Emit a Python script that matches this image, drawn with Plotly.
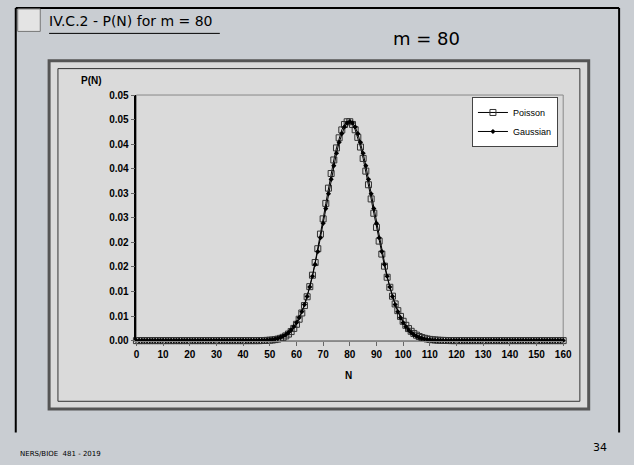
import plotly.graph_objects as go

# ---- data ----
N = list(range(0, 161))

poisson = [
    0, 0, 0, 0, 0, 0, 0, 0, 0, 0, 0, 0, 0, 0, 0, 0, 0, 0, 0, 0,
    0, 0, 0, 0, 0, 0, 0, 0, 0, 0, 0, 0, 0, 0, 0, 0, 0, 0, 0, 0,
    0, 0, 0, 0, 0, 0, 0,
    0.00002, 0.00003, 0.00005, 0.00009, 0.00013, 0.00021, 0.00031, 0.00046, 0.00067, 0.00096,
    0.00133, 0.00184, 0.00249, 0.00332, 0.00436, 0.00563, 0.00714, 0.00893, 0.01099, 0.01332,
    0.01590, 0.01871, 0.02169, 0.02479, 0.02794, 0.03104, 0.03402, 0.03678, 0.03923, 0.04129,
    0.04290, 0.04400, 0.04456, 0.04456, 0.04401, 0.04293, 0.04138, 0.03941, 0.03709, 0.03451,
    0.03173, 0.02885, 0.02593, 0.02305, 0.02026, 0.01762, 0.01516, 0.01290, 0.01086, 0.00905,
    0.00747, 0.00610, 0.00493, 0.00394, 0.00312, 0.00245, 0.00190, 0.00146, 0.00111, 0.00084,
    0.00063, 0.00047, 0.00034, 0.00025, 0.00018, 0.00013, 0.00009, 0.00006, 0.00004, 0.00003,
    0.00002,
    0, 0, 0, 0, 0, 0, 0, 0, 0, 0, 0, 0, 0, 0, 0, 0, 0, 0, 0, 0,
    0, 0, 0, 0, 0, 0, 0, 0, 0, 0, 0, 0, 0, 0, 0, 0, 0, 0, 0, 0,
    0, 0, 0,
]

gaussian = [
    0, 0, 0, 0, 0, 0, 0, 0, 0, 0, 0, 0, 0, 0, 0, 0, 0, 0, 0, 0,
    0, 0, 0, 0, 0, 0, 0, 0, 0, 0, 0, 0, 0, 0, 0, 0, 0, 0, 0, 0,
    0, 0, 0, 0, 0,
    0.00002, 0.00003, 0.00005, 0.00007, 0.00011, 0.00016, 0.00023, 0.00033, 0.00047, 0.00065,
    0.00090, 0.00122, 0.00164, 0.00217, 0.00283, 0.00366, 0.00467, 0.00589, 0.00733, 0.00900,
    0.01093, 0.01310, 0.01551, 0.01813, 0.02094, 0.02387, 0.02688, 0.02990, 0.03283, 0.03561,
    0.03815, 0.04036, 0.04216, 0.04350, 0.04432, 0.04460, 0.04432, 0.04350, 0.04216, 0.04036,
    0.03815, 0.03561, 0.03283, 0.02990, 0.02688, 0.02387, 0.02094, 0.01813, 0.01551, 0.01310,
    0.01093, 0.00900, 0.00733, 0.00589, 0.00467, 0.00366, 0.00283, 0.00217, 0.00164, 0.00122,
    0.00090, 0.00065, 0.00047, 0.00033, 0.00023, 0.00016, 0.00011, 0.00007, 0.00005, 0.00003,
    0.00002,
    0, 0, 0, 0, 0, 0, 0, 0, 0, 0, 0, 0, 0, 0, 0, 0, 0, 0, 0, 0,
    0, 0, 0, 0, 0, 0, 0, 0, 0, 0, 0, 0, 0, 0, 0, 0, 0, 0, 0, 0,
    0, 0, 0, 0, 0,
]

x_ticks = [0, 10, 20, 30, 40, 50, 60, 70, 80, 90, 100, 110, 120, 130, 140, 150, 160]
y_tickvals = [0, 0.005, 0.01, 0.015, 0.02, 0.025, 0.03, 0.035, 0.04, 0.045, 0.05]
y_ticktext = ["0.00", "0.01", "0.01", "0.02", "0.02", "0.03", "0.03", "0.04", "0.04", "0.05", "0.05"]

W, H = 634, 465


def px(x):
    return x / W


def py(y):
    return 1 - y / H


fig = go.Figure()
fig.add_trace(go.Scatter(
    x=N, y=poisson, name="Poisson", mode="lines+markers", cliponaxis=False,
    line=dict(color="black", width=1),
    marker=dict(symbol="square-open", size=6, color="#333333", line=dict(width=1)),
))
fig.add_trace(go.Scatter(
    x=N, y=gaussian, name="Gaussian", mode="lines+markers", cliponaxis=False,
    line=dict(color="black", width=1),
    marker=dict(symbol="diamond", size=4, color="black"),
))

SLIDE_BG = "#c9cdd2"
CHART_BG = "#dadada"
ARIAL = "Liberation Sans, Arial, sans-serif"
COMIC = "Comic Sans MS, DejaVu Sans, sans-serif"

shapes = [
    # chart box (outer thick + inner thin)
    dict(type="rect", xref="paper", yref="paper", x0=px(47), x1=px(597), y0=py(413), y1=py(57),
         line=dict(color="#555555", width=3), fillcolor=CHART_BG, layer="below"),
    dict(type="rect", xref="paper", yref="paper", x0=px(56), x1=px(588), y0=py(405), y1=py(65),
         line=dict(color="#333333", width=1), fillcolor=CHART_BG, layer="below"),
    # plot area border
    dict(type="rect", xref="paper", yref="paper", x0=px(136), x1=px(571), y0=py(343), y1=py(92),
         line=dict(color="#888888", width=1), fillcolor="rgba(0,0,0,0)", layer="below"),
    # slide frame
    dict(type="line", xref="paper", yref="paper", x0=px(13), x1=px(13), y0=py(3), y1=py(437),
         line=dict(color="black", width=2)),
    dict(type="line", xref="paper", yref="paper", x0=px(13), x1=px(628), y0=py(3), y1=py(3),
         line=dict(color="black", width=2)),
    dict(type="line", xref="paper", yref="paper", x0=px(628), x1=px(628), y0=py(3), y1=py(437),
         line=dict(color="black", width=2)),
    # title icon
    dict(type="rect", xref="paper", yref="paper", x0=px(15), x1=px(38), y0=py(27), y1=py(4),
         line=dict(color="#777777", width=1), fillcolor="#e4e4e4"),
    # title underline
    dict(type="line", xref="paper", yref="paper", x0=px(47), x1=px(221), y0=py(29), y1=py(29),
         line=dict(color="black", width=1)),
]

annotations = [
    dict(text="IV.C.2 - P(N) for m = 80", x=px(45), y=py(16), xref="paper", yref="paper",
         xanchor="left", yanchor="middle", showarrow=False,
         font=dict(family=COMIC, size=14, color="black")),
    dict(text="m = 80", x=px(432), y=py(34), xref="paper", yref="paper",
         xanchor="center", yanchor="middle", showarrow=False,
         font=dict(family=COMIC, size=18, color="black")),
    dict(text="<b>P(N)</b>", x=px(90), y=py(77), xref="paper", yref="paper",
         xanchor="center", yanchor="middle", showarrow=False,
         font=dict(family=ARIAL, size=10, color="black")),
    dict(text="<b>N</b>", x=px(352), y=py(379), xref="paper", yref="paper",
         xanchor="center", yanchor="middle", showarrow=False,
         font=dict(family=ARIAL, size=10, color="black")),
    dict(text="NERS/BIOE  481 - 2019", x=px(15), y=py(459), xref="paper", yref="paper",
         xanchor="left", yanchor="middle", showarrow=False,
         font=dict(family=COMIC, size=7, color="black")),
    dict(text="34", x=px(618), y=py(452), xref="paper", yref="paper",
         xanchor="right", yanchor="middle", showarrow=False,
         font=dict(family=COMIC, size=11, color="black")),
]

fig.update_layout(
    width=W, height=H,
    margin=dict(l=0, r=0, t=0, b=0),
    paper_bgcolor=SLIDE_BG,
    plot_bgcolor=CHART_BG,
    showlegend=True,
    legend=dict(x=px(478), y=py(94), xanchor="left", yanchor="top",
                bgcolor="white", bordercolor="#444444", borderwidth=1,
                font=dict(family=ARIAL, size=9, color="black"),
                tracegroupgap=0, itemwidth=30),
    shapes=shapes,
    annotations=annotations,
    xaxis=dict(domain=[px(136), px(571)], range=[0, 160], tickvals=x_ticks,
               ticks="outside", ticklen=4, tickcolor="#666666",
               showline=True, linecolor="#888888", linewidth=1,
               showgrid=False, zeroline=False,
               tickfont=dict(family=ARIAL, size=10, color="black", weight="bold")),
    yaxis=dict(domain=[py(343), py(92)], range=[0, 0.05], tickvals=y_tickvals, ticktext=y_ticktext,
               ticks="outside", ticklen=4, tickcolor="#666666",
               showline=True, linecolor="black", linewidth=1.5,
               showgrid=False, zeroline=False,
               tickfont=dict(family=ARIAL, size=10, color="black", weight="bold")),
)

fig.write_html(
    "out.html",
    config={"displayModeBar": False},
    post_script="document.body.style.margin='0';document.body.style.overflow='hidden';",
)
